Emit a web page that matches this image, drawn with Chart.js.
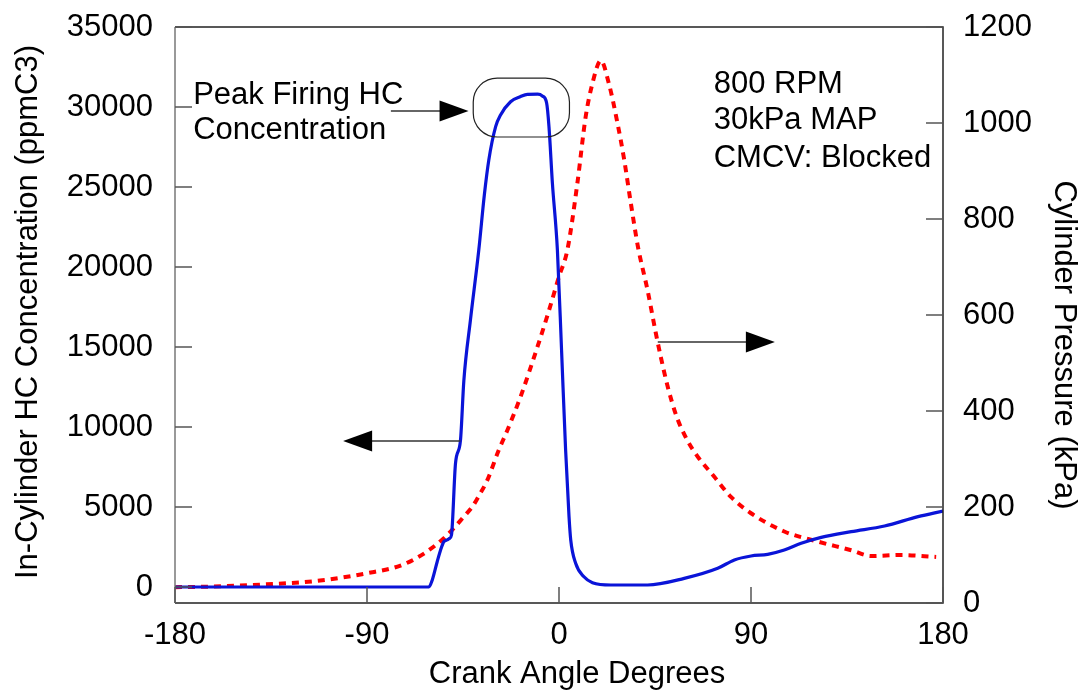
<!DOCTYPE html>
<html>
<head>
<meta charset="utf-8">
<script src="https://cdn.jsdelivr.net/npm/chart.js@4.4.0/dist/chart.umd.min.js"></script>
<style>
  html, body { margin: 0; padding: 0; background: #fff; }
  #wrap { width: 1086px; height: 690px; }
</style>
</head>
<body>
<div id="wrap"><canvas id="chart" width="1086" height="690"></canvas></div>
<script>
// tick labels
const angleTicks = [-180, -90, 0, 90, 180];
const hcTicks = [0, 5000, 10000, 15000, 20000, 25000, 30000, 35000];
const pressureTicks = [0, 200, 400, 600, 800, 1000, 1200];

// in-cylinder HC concentration (ppmC3) vs crank angle
const hcAngle = [-180, -62, -61, -59.4, -57.1, -55.5, -54, -52.4, -51.3, -50.4, -48.5, -46.2, -44.6, -41.5,
  -37.6, -35, -32.9, -29.7, -27.4, -22.7, -18, -14.8, -10, -7.8, -5.8, -4.7, -3.1, -0.75, 1.2, 3.1, 4.7,
  5.5, 7.8, 11.7, 15.7, 24.3, 41.5, 58.7, 74.4, 82.2, 90, 97.8, 105.6, 113.5, 122.9, 137, 152.6, 168.3, 180];
const hcValue = [0, 0, 0, 440, 1580, 2310, 2830, 2940, 3040, 3250, 7750, 9150, 12900, 16700,
  21060, 24500, 26690, 28770, 29500, 30330, 30650, 30790, 30800, 30690, 30250, 28770, 25250, 21060, 14800, 8560, 4400,
  2940, 1480, 640, 270, 125, 125, 540, 1170, 1690, 1940, 2040, 2310, 2730, 3100, 3460, 3810, 4400, 4750];

// cylinder pressure (kPa) vs crank angle
const pressureAngle = [-180, -165, -137, -113.4, -90, -74.3, -63.3, -54, -49.3, -44.6, -40.7, -37.6, -33.6,
  -28.2, -24.2, -18, -10, -5, 0, 3.9, 8.6, 12.5, 15.7, 19.6, 23.5, 27.4, 30.5, 33.6, 37.1, 41.5, 45.4, 47.7,
  51, 55, 60, 65, 72.8, 80.6, 90, 105.6, 121.3, 137, 146.3, 160.4, 176.8];
const pressureValue = [33, 34, 39, 46, 62, 78, 103, 135, 156, 180, 200, 223, 256,
  319, 360, 430, 535, 605, 680, 735, 874, 1013, 1083, 1130, 1080, 1000, 925, 835, 740, 652, 562, 513,
  450, 390, 340, 305, 263, 221, 187, 149, 128, 110, 98, 100, 96];

const FONT = '"Liberation Sans", Arial, sans-serif';

function points(xs, ys) {
  return xs.map((x, i) => ({x: x, y: ys[i]}));
}

function fixTicks(values) {
  return function(scale) {
    scale.ticks = values.map(v => ({value: v}));
  };
}

function arrow(ctx, x1, y1, x2, y2) {
  const dir = Math.sign(x2 - x1);
  ctx.strokeStyle = '#333';
  ctx.lineWidth = 1.5;
  ctx.beginPath();
  ctx.moveTo(x1, y1);
  ctx.lineTo(x2 - dir * 20, y2);
  ctx.stroke();
  ctx.fillStyle = '#000';
  ctx.beginPath();
  ctx.moveTo(x2, y2);
  ctx.lineTo(x2 - dir * 29, y2 - 10.5);
  ctx.lineTo(x2 - dir * 29, y2 + 10.5);
  ctx.closePath();
  ctx.fill();
}

const decorations = {
  id: 'decorations',
  afterDraw(chart) {
    const ctx = chart.ctx;
    const xs = chart.scales.x, yl = chart.scales.y, yr = chart.scales.y2;
    const a = chart.chartArea;
    ctx.save();

    // frame
    ctx.lineWidth = 1.5;
    ctx.strokeStyle = '#222';
    ctx.beginPath();
    ctx.moveTo(a.left, a.top); ctx.lineTo(a.right, a.top);
    ctx.lineTo(a.right, a.bottom); ctx.lineTo(a.left, a.bottom);
    ctx.stroke();
    ctx.strokeStyle = '#777';
    ctx.beginPath();
    ctx.moveTo(a.left, a.top); ctx.lineTo(a.left, a.bottom);
    ctx.stroke();

    // inward ticks
    ctx.strokeStyle = '#555';
    ctx.lineWidth = 1.5;
    ctx.beginPath();
    hcTicks.forEach(v => { const y = yl.getPixelForValue(v); ctx.moveTo(a.left, y); ctx.lineTo(a.left + 17, y); });
    pressureTicks.forEach(v => { const y = yr.getPixelForValue(v); ctx.moveTo(a.right, y); ctx.lineTo(a.right - 17, y); });
    angleTicks.forEach(v => { const x = xs.getPixelForValue(v); ctx.moveTo(x, a.bottom); ctx.lineTo(x, a.bottom - 16); });
    ctx.stroke();

    // annotations
    ctx.fillStyle = '#000';
    ctx.font = '31px ' + FONT;
    ctx.textBaseline = 'middle';
    ctx.textAlign = 'left';
    ctx.fillText('Peak Firing HC', xs.getPixelForValue(-171.5), yl.getPixelForValue(30720));
    ctx.fillText('Concentration', xs.getPixelForValue(-171.5), yl.getPixelForValue(28560));
    ctx.fillText('800 RPM', xs.getPixelForValue(72.5), yl.getPixelForValue(31400));
    ctx.fillText('30kPa MAP', xs.getPixelForValue(72.5), yl.getPixelForValue(29150));
    ctx.fillText('CMCV: Blocked', xs.getPixelForValue(72.5), yl.getPixelForValue(26780));

    // box round the peak
    const bx1 = xs.getPixelForValue(-40.2), bx2 = xs.getPixelForValue(4.9);
    const by1 = yl.getPixelForValue(31810), by2 = yl.getPixelForValue(28125);
    ctx.strokeStyle = '#222';
    ctx.lineWidth = 1.2;
    ctx.beginPath();
    ctx.roundRect(bx1, by1, bx2 - bx1, by2 - by1, 24);
    ctx.stroke();

    arrow(ctx, xs.getPixelForValue(-78.8), yl.getPixelForValue(29750), xs.getPixelForValue(-42.4), yl.getPixelForValue(29750));
    arrow(ctx, xs.getPixelForValue(-46.2), yl.getPixelForValue(9125), xs.getPixelForValue(-101.2), yl.getPixelForValue(9125));
    arrow(ctx, xs.getPixelForValue(46.3), yr.getPixelForValue(543.75), xs.getPixelForValue(101.2), yr.getPixelForValue(543.75));

    // axis titles
    ctx.textAlign = 'center';
    ctx.fillText('Crank Angle Degrees', 577, 674);
    ctx.save();
    ctx.translate(28, 312);
    ctx.rotate(-Math.PI / 2);
    ctx.fillText('In-Cylinder HC Concentration (ppmC3)', 0, 0);
    ctx.restore();
    ctx.save();
    ctx.translate(1064, 345);
    ctx.rotate(Math.PI / 2);
    ctx.fillText('Cylinder Pressure (kPa)', 0, 0);
    ctx.restore();

    ctx.restore();
  }
};

const tickFont = {family: FONT, size: 31};
const plain = v => String(v);

function fitVertical(width) {
  return function(scale) {
    scale.width = width;
    scale.paddingTop = 0;
    scale.paddingBottom = 0;
  };
}

new Chart(document.getElementById('chart'), {
  type: 'line',
  data: {
    datasets: [
      {
        label: 'HC',
        data: points(hcAngle, hcValue),
        yAxisID: 'y',
        borderColor: '#0a14d8',
        borderWidth: 3.2,
        pointRadius: 0,
        cubicInterpolationMode: 'monotone',
      },
      {
        label: 'Pressure',
        data: points(pressureAngle, pressureValue),
        yAxisID: 'y2',
        borderColor: '#ff0000',
        borderWidth: 4,
        borderDash: [7, 6],
        pointRadius: 0,
        cubicInterpolationMode: 'monotone',
      },
    ]
  },
  options: {
    responsive: false,
    animation: false,
    layout: {padding: {top: 27, left: 0, right: 0, bottom: 0}},
    plugins: {
      legend: {display: false},
      tooltip: {enabled: false},
    },
    scales: {
      x: {
        type: 'linear',
        min: -180,
        max: 180,
        grid: {display: false, drawTicks: false},
        border: {display: false},
        ticks: {font: tickFont, color: '#000', padding: 14, maxRotation: 0, callback: plain},
        afterBuildTicks: fixTicks(angleTicks),
        afterFit: scale => { scale.height = 87; scale.paddingLeft = 0; scale.paddingRight = 0; },
      },
      y: {
        type: 'linear',
        position: 'left',
        min: -1000,
        max: 35000,
        grid: {display: false, drawTicks: false},
        border: {display: false},
        ticks: {font: tickFont, color: '#000', padding: 22, callback: plain},
        afterBuildTicks: fixTicks(hcTicks),
        afterFit: fitVertical(175),
      },
      y2: {
        type: 'linear',
        position: 'right',
        min: 0,
        max: 1200,
        grid: {display: false, drawTicks: false},
        border: {display: false},
        ticks: {font: tickFont, color: '#000', padding: 20, callback: plain},
        afterBuildTicks: fixTicks(pressureTicks),
        afterFit: fitVertical(143),
      },
    }
  },
  plugins: [decorations]
});
</script>
</body>
</html>
